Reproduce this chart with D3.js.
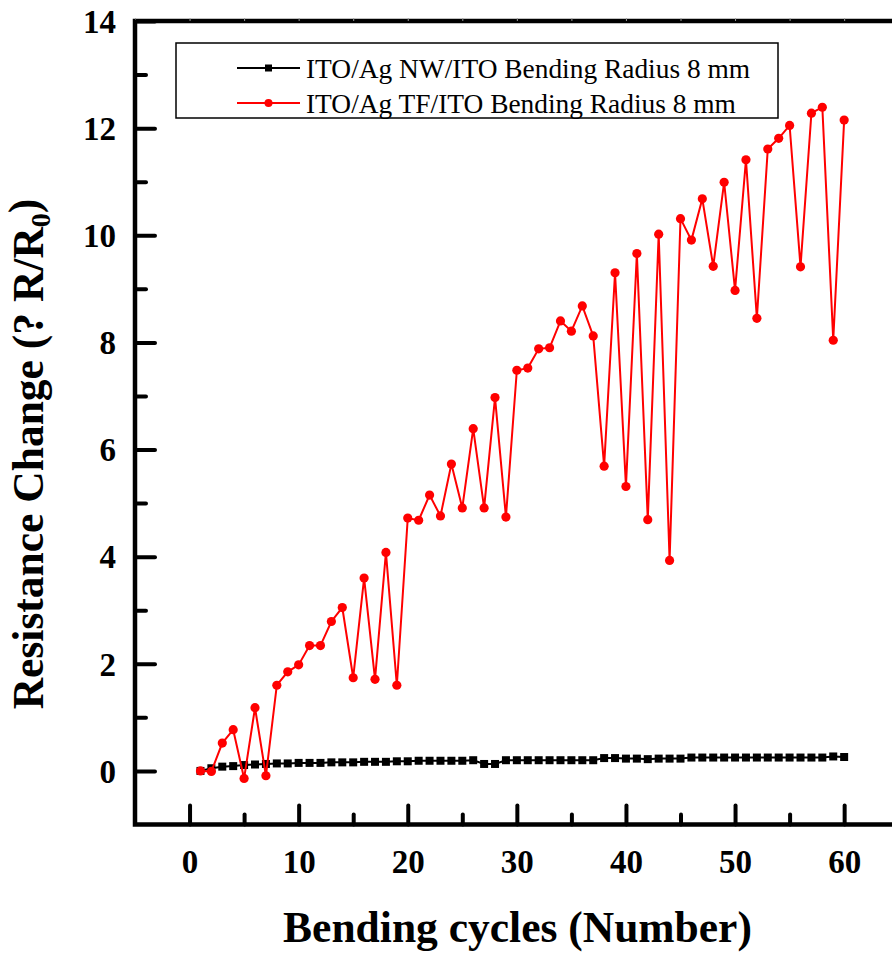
<!DOCTYPE html>
<html>
<head>
<meta charset="utf-8">
<script src="https://cdn.jsdelivr.net/npm/d3@7"></script>
<style>
  html, body { margin: 0; padding: 0; background: #fff; }
  svg { display: block; }
</style>
</head>
<body>
<svg id="chart" width="892" height="957"></svg>
<script>
// ---- data ----
const cycles = d3.range(1, 61);
const nwValues = [
  0.00, 0.05, 0.08, 0.09, 0.11, 0.12, 0.13, 0.14, 0.14, 0.15,
  0.15, 0.15, 0.16, 0.16, 0.16, 0.17, 0.17, 0.17, 0.18, 0.18,
  0.19, 0.19, 0.19, 0.19, 0.19, 0.20, 0.13, 0.13, 0.20, 0.20,
  0.20, 0.20, 0.20, 0.20, 0.20, 0.20, 0.20, 0.24, 0.24, 0.23,
  0.23, 0.22, 0.23, 0.23, 0.23, 0.25, 0.25, 0.25, 0.25, 0.25,
  0.25, 0.25, 0.25, 0.25, 0.25, 0.25, 0.25, 0.25, 0.27, 0.26
];
const tfValues = [
  0.00, -0.01, 0.52, 0.77, -0.14, 1.18, -0.09, 1.60, 1.85, 1.98,
  2.34, 2.34, 2.79, 3.05, 1.74, 3.60, 1.71, 4.08, 1.60, 4.72,
  4.68, 5.15, 4.76, 5.73, 4.91, 6.39, 4.91, 6.97, 4.74, 7.48,
  7.52, 7.88, 7.90, 8.40, 8.21, 8.68, 8.12, 5.69, 9.30, 5.31,
  9.66, 4.69, 10.02, 3.93, 10.31, 9.91, 10.68, 9.42, 10.99, 8.97,
  11.41, 8.45, 11.61, 11.81, 12.05, 9.41, 12.28, 12.39, 8.04, 12.15
];
const seriesNames = [
  "ITO/Ag NW/ITO Bending Radius 8 mm",
  "ITO/Ag TF/ITO Bending Radius 8 mm"
];
const xMajorTicks = [0, 10, 20, 30, 40, 50, 60];
const xMinorTicks = [5, 15, 25, 35, 45, 55];
const yMajorTicks = [0, 2, 4, 6, 8, 10, 12, 14];
const yMinorTicks = [1, 3, 5, 7, 9, 11, 13];
const xTitle = "Bending cycles (Number)";
const yTitleMain = "Resistance Change (? R/R";
const yTitleSub = "0";
const yTitleEnd = ")";

// ---- layout ----
const svg = d3.select("#chart");
const pLeft = 135, pRight = 898.7, pTop = 21, pBottom = 824.5;
const x = d3.scaleLinear().domain([-5, 65]).range([pLeft, pRight]);
const y = d3.scaleLinear().domain([-1, 14]).range([pBottom, pTop]);
const serif = "'Liberation Serif', 'Times New Roman', Times, serif";

// frame
svg.append("rect")
  .attr("x", pLeft).attr("y", pTop)
  .attr("width", pRight - pLeft).attr("height", pBottom - pTop)
  .attr("fill", "none").attr("stroke", "#000").attr("stroke-width", 4.5);

// tiny top ticks
const topAxis = svg.append("g").attr("transform", `translate(0,${pTop})`)
  .call(d3.axisTop(x).tickValues(d3.range(-5, 66, 5)).tickSize(3).tickFormat(""));
topAxis.select(".domain").remove();
topAxis.selectAll("line").attr("stroke", "#999").attr("stroke-width", 1);

// bottom axis major
const xAxisMajor = svg.append("g").attr("transform", `translate(0,${pBottom})`)
  .call(d3.axisBottom(x).tickValues(xMajorTicks).tickSize(-19).tickPadding(0).tickFormat(d3.format("d")));
xAxisMajor.select(".domain").remove();
xAxisMajor.selectAll("line").attr("stroke", "#000").attr("stroke-width", 4).attr("stroke-linecap", "round");
xAxisMajor.selectAll("text")
  .attr("y", 48.5).attr("dy", null)
  .attr("fill", "#000")
  .style("font-family", serif).style("font-weight", "bold").style("font-size", "33px");

const xAxisMinor = svg.append("g").attr("transform", `translate(0,${pBottom})`)
  .call(d3.axisBottom(x).tickValues(xMinorTicks).tickSize(-10).tickFormat(""));
xAxisMinor.select(".domain").remove();
xAxisMinor.selectAll("line").attr("stroke", "#000").attr("stroke-width", 4).attr("stroke-linecap", "round");

// left axis major
const yAxisMajor = svg.append("g").attr("transform", `translate(${pLeft},0)`)
  .call(d3.axisLeft(y).tickValues(yMajorTicks).tickSize(-20).tickPadding(0).tickFormat(d3.format("d")));
yAxisMajor.select(".domain").remove();
yAxisMajor.selectAll("line").attr("stroke", "#000").attr("stroke-width", 4).attr("stroke-linecap", "round");
yAxisMajor.selectAll("text")
  .attr("x", -19).attr("dy", "0.34em")
  .attr("fill", "#000")
  .style("font-family", serif).style("font-weight", "bold").style("font-size", "33px");

const yAxisMinor = svg.append("g").attr("transform", `translate(${pLeft},0)`)
  .call(d3.axisLeft(y).tickValues(yMinorTicks).tickSize(-11).tickFormat(""));
yAxisMinor.select(".domain").remove();
yAxisMinor.selectAll("line").attr("stroke", "#000").attr("stroke-width", 4).attr("stroke-linecap", "round");

// ---- series ----
const nwData = cycles.map((c, i) => ({ x: c, y: nwValues[i] }));
const tfData = cycles.map((c, i) => ({ x: c, y: tfValues[i] }));
const line = d3.line().x(d => x(d.x)).y(d => y(d.y));

svg.append("path").datum(nwData)
  .attr("d", line).attr("fill", "none").attr("stroke", "#000").attr("stroke-width", 2);
svg.append("g").selectAll("rect").data(nwData).join("rect")
  .attr("x", d => x(d.x) - 4).attr("y", d => y(d.y) - 4)
  .attr("width", 8).attr("height", 8).attr("fill", "#000");

svg.append("path").datum(tfData)
  .attr("d", line).attr("fill", "none").attr("stroke", "#ff0000").attr("stroke-width", 2);
svg.append("g").selectAll("circle").data(tfData).join("circle")
  .attr("cx", d => x(d.x)).attr("cy", d => y(d.y))
  .attr("r", 4.6).attr("fill", "#ff0000");

// ---- legend ----
const lg = svg.append("g");
lg.append("rect").attr("x", 176).attr("y", 43).attr("width", 602).attr("height", 75)
  .attr("fill", "#fff").attr("stroke", "#000").attr("stroke-width", 1.5);
const legendRows = [
  { name: seriesNames[0], color: "#000", shape: "square", cy: 68 },
  { name: seriesNames[1], color: "#ff0000", shape: "circle", cy: 103 }
];
legendRows.forEach(r => {
  lg.append("line").attr("x1", 237).attr("x2", 300).attr("y1", r.cy).attr("y2", r.cy)
    .attr("stroke", r.color).attr("stroke-width", 1.8);
  if (r.shape === "square") {
    lg.append("rect").attr("x", 265).attr("y", r.cy - 3.5).attr("width", 7).attr("height", 7).attr("fill", r.color);
  } else {
    lg.append("circle").attr("cx", 268.5).attr("cy", r.cy).attr("r", 4).attr("fill", r.color);
  }
  lg.append("text").attr("x", 306).attr("y", r.cy + 9.5)
    .attr("fill", "#000")
    .style("font-family", serif).style("font-size", "27.4px")
    .text(r.name);
});

// ---- titles ----
svg.append("text")
  .attr("x", 517.5).attr("y", 942)
  .attr("text-anchor", "middle").attr("fill", "#000")
  .style("font-family", serif).style("font-weight", "bold").style("font-size", "43.5px")
  .text(xTitle);

const yt = svg.append("text")
  .attr("transform", "translate(43,454) rotate(-90)")
  .attr("text-anchor", "middle").attr("fill", "#000")
  .style("font-family", serif).style("font-weight", "bold").style("font-size", "43.5px");
yt.append("tspan").text(yTitleMain);
yt.append("tspan").attr("dy", "0.25em").style("font-size", "28px").text(yTitleSub);
yt.append("tspan").attr("dy", "-0.25em").text(yTitleEnd);
</script>
</body>
</html>
